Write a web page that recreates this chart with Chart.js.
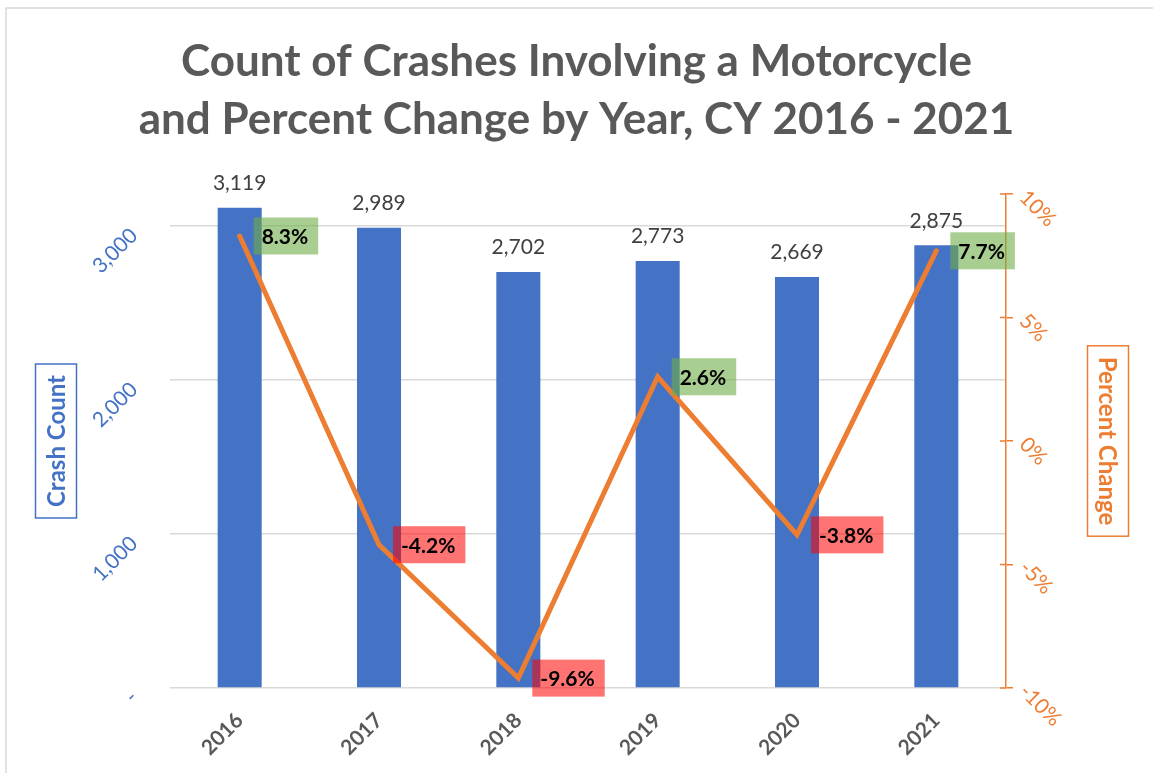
<!DOCTYPE html>
<html><head><meta charset="utf-8">
<script src="https://cdn.jsdelivr.net/npm/chart.js@4.4.1/dist/chart.umd.min.js"></script>
<style>html,body{margin:0;padding:0;background:#fff;}canvas{display:block;}</style>
</head><body>
<canvas id="c" width="1153" height="773"></canvas>
<script>
const years = ['2016', '2017', '2018', '2019', '2020', '2021'];
const crashCounts = [3119, 2989, 2702, 2773, 2669, 2875];
const percentChange = [8.3, -4.2, -9.6, 2.6, -3.8, 7.7];
const titleLines = ['Count of Crashes Involving a Motorcycle', 'and Percent Change by Year, CY 2016 - 2021'];
const countTicks = [0, 1000, 2000, 3000];
const countAxisMax = 3208;
const percentTicks = [-10, -5, 0, 5, 10];
const leftAxisTitle = 'Crash Count';
const rightAxisTitle = 'Percent Change';

const FONT = 'Lato, "Open Sans", sans-serif';
const BLUE = '#4472C4', ORANGE = '#ED7D31', GRAY = '#595959';

function boxTitle(ctx, text, cx, cy, color, rot) {
  ctx.save();
  ctx.font = 'bold 24px ' + FONT;
  const tw = ctx.measureText(text).width;
  const L = tw + 22, W = 41;
  ctx.translate(cx, cy);
  ctx.rotate(rot);
  ctx.fillStyle = '#fff';
  ctx.fillRect(-L / 2, -W / 2, L, W);
  ctx.strokeStyle = color; ctx.lineWidth = 1.5;
  ctx.strokeRect(-L / 2, -W / 2, L, W);
  ctx.fillStyle = color; ctx.textAlign = 'center'; ctx.textBaseline = 'middle';
  ctx.fillText(text, 0, 1);
  ctx.restore();
}

const decor = {
  id: 'decor',
  beforeDraw(chart) {
    const {ctx, width, height} = chart;
    ctx.save();
    ctx.fillStyle = '#fff'; ctx.fillRect(0, 0, width, height);
    ctx.strokeStyle = '#D9D9D9'; ctx.lineWidth = 1.5;
    ctx.strokeRect(6, 8, width + 10, height + 10);
    ctx.restore();
  },
  afterDatasetsDraw(chart) {
    const ctx = chart.ctx;
    const barMeta = chart.getDatasetMeta(0), lineMeta = chart.getDatasetMeta(1);
    ctx.save();
    ctx.font = '21px ' + FONT; ctx.fillStyle = '#404040';
    ctx.textAlign = 'center'; ctx.textBaseline = 'bottom';
    barMeta.data.forEach((bar, i) => ctx.fillText(crashCounts[i].toLocaleString('en-US'), bar.x, bar.y - 14));
    ctx.font = 'bold 21px ' + FONT; ctx.textAlign = 'left'; ctx.textBaseline = 'middle';
    lineMeta.data.forEach((pt, i) => {
      const v = percentChange[i];
      const txt = v.toFixed(1) + '%';
      const w = ctx.measureText(txt).width + 18, h = 37;
      const bx = pt.x + 14, by = pt.y - h / 2;
      ctx.fillStyle = v >= 0 ? 'rgba(112,173,71,0.6)' : 'rgba(255,0,0,0.55)';
      ctx.fillRect(bx, by, w, h);
      ctx.fillStyle = '#000';
      ctx.fillText(txt, bx + 8, pt.y + 1);
    });
    ctx.restore();
  },
  afterDraw(chart) {
    const ctx = chart.ctx, area = chart.chartArea;
    const cy = (area.top + area.bottom) / 2;
    boxTitle(ctx, leftAxisTitle, 56, cy, BLUE, -Math.PI / 2);
    boxTitle(ctx, rightAxisTitle, chart.width - 45, cy, ORANGE, Math.PI / 2);
    const s = chart.scales.y1;
    ctx.save();
    ctx.strokeStyle = ORANGE; ctx.lineWidth = 1.5;
    s.ticks.forEach(t => {
      const y = s.getPixelForValue(t.value);
      ctx.beginPath(); ctx.moveTo(s.left - 6, y); ctx.lineTo(s.left, y); ctx.stroke();
    });
    ctx.restore();
  }
};

new Chart(document.getElementById('c'), {
  data: {
    labels: years,
    datasets: [
      { type: 'bar', label: 'Crash Count', data: crashCounts, backgroundColor: BLUE, yAxisID: 'y',
        categoryPercentage: 1, barPercentage: 0.316, order: 2 },
      { type: 'line', label: 'Percent Change', data: percentChange, borderColor: ORANGE, borderWidth: 5,
        pointRadius: 0, tension: 0, yAxisID: 'y1', order: 1, borderCapStyle: 'round' }
    ]
  },
  options: {
    responsive: false,
    animation: false,
    layout: { padding: 0 },
    plugins: {
      legend: { display: false },
      tooltip: { enabled: false },
      title: { display: true, text: titleLines, color: GRAY,
        font: { family: FONT, size: 44, weight: 'bold', lineHeight: 1.318 },
        padding: { top: 33, bottom: 45 } }
    },
    scales: {
      x: {
        grid: { display: false, drawTicks: false }, border: { display: false },
        ticks: { color: GRAY, font: { family: FONT, size: 21, weight: 'bold' }, minRotation: 45, maxRotation: 45, padding: 20, autoSkip: false },
        afterFit: s => { s.height = 85; }
      },
      y: {
        position: 'left', min: 0, max: countAxisMax,
        grid: { color: '#D9D9D9', lineWidth: 1.5, drawTicks: false }, border: { display: false },
        ticks: { color: BLUE, font: { family: FONT, size: 21 }, minRotation: 45, maxRotation: 45, padding: 36, labelOffset: 6,
          callback: v => v === 0 ? '-' : v.toLocaleString('en-US') },
        afterBuildTicks: s => { s.ticks = countTicks.map(v => ({ value: v })); },
        afterFit: s => { s.width = 170; }
      },
      y1: {
        position: 'right', min: -10, max: 10,
        grid: { drawOnChartArea: false, color: ORANGE, lineWidth: 1.5, tickLength: 7 },
        border: { color: ORANGE, width: 1.5 },
        ticks: { color: ORANGE, font: { family: FONT, size: 21 }, minRotation: -45, maxRotation: -45, padding: 10,
          callback: v => v + '%' },
        afterBuildTicks: s => { s.ticks = percentTicks.map(v => ({ value: v })); },
        afterFit: s => { s.width = 147; }
      }
    }
  },
  plugins: [decor]
});
</script>
</body></html>
